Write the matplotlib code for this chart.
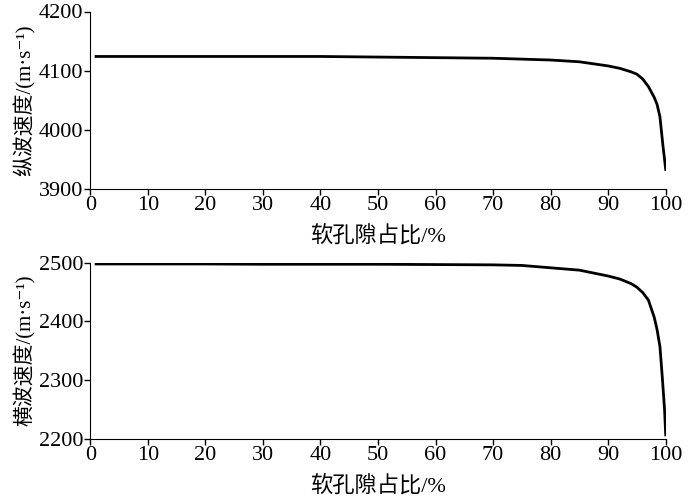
import matplotlib.pyplot as plt

plt.rcParams['font.family'] = ['Liberation Serif', 'Noto Sans CJK SC', 'DejaVu Serif']

# soft pore ratio (%)
x_vp = [1, 10, 20, 30, 40, 50, 60, 70, 80, 85, 90, 92, 94, 95, 96, 97, 98, 98.5, 99, 99.5, 99.8, 100]
vp = [4124, 4124, 4124, 4124, 4124, 4123, 4122, 4121, 4118, 4115, 4108, 4104, 4098,
      4094, 4086, 4073, 4055, 4043, 4022, 3975, 3950, 3933]

x_vs = [1, 10, 20, 30, 40, 50, 60, 70, 75, 80, 85, 90, 92, 94, 95, 96, 97, 98, 98.5, 99, 99.4, 99.8, 100]
vs = [2497.5, 2497.5, 2497.5, 2497, 2497, 2497, 2496.5, 2496, 2495, 2491, 2487, 2477, 2472,
      2464, 2458, 2449, 2436, 2407, 2386, 2357, 2306, 2250, 2207]

fig = plt.figure(figsize=(7, 5), dpi=100)
ax1 = fig.add_axes([0.129, 0.622, 0.822, 0.355])
ax2 = fig.add_axes([0.129, 0.122, 0.822, 0.353])

ax1.plot(x_vp, vp, 'k', lw=2)
ax1.set_ylim(3900, 4200)
ax1.set_yticks([3900, 4000, 4100, 4200])
ax1.set_ylabel('纵波速度/(m·s⁻¹)', fontsize=15, labelpad=2)

ax2.plot(x_vs, vs, 'k', lw=2)
ax2.set_ylim(2200, 2500)
ax2.set_yticks([2200, 2300, 2400, 2500])
ax2.set_ylabel('横波速度/(m·s⁻¹)', fontsize=15, labelpad=2)

for ax in [ax1, ax2]:
    ax.set_xlim(0, 100)
    ax.set_xticks(range(0, 101, 10))
    ax.set_xlabel('软孔隙占比/%', fontsize=16, labelpad=8)
    ax.spines['top'].set_visible(False)
    ax.spines['right'].set_visible(False)
    ax.tick_params(labelsize=16, length=4, width=1, pad=1)

fig.savefig('out.png', dpi=100)
